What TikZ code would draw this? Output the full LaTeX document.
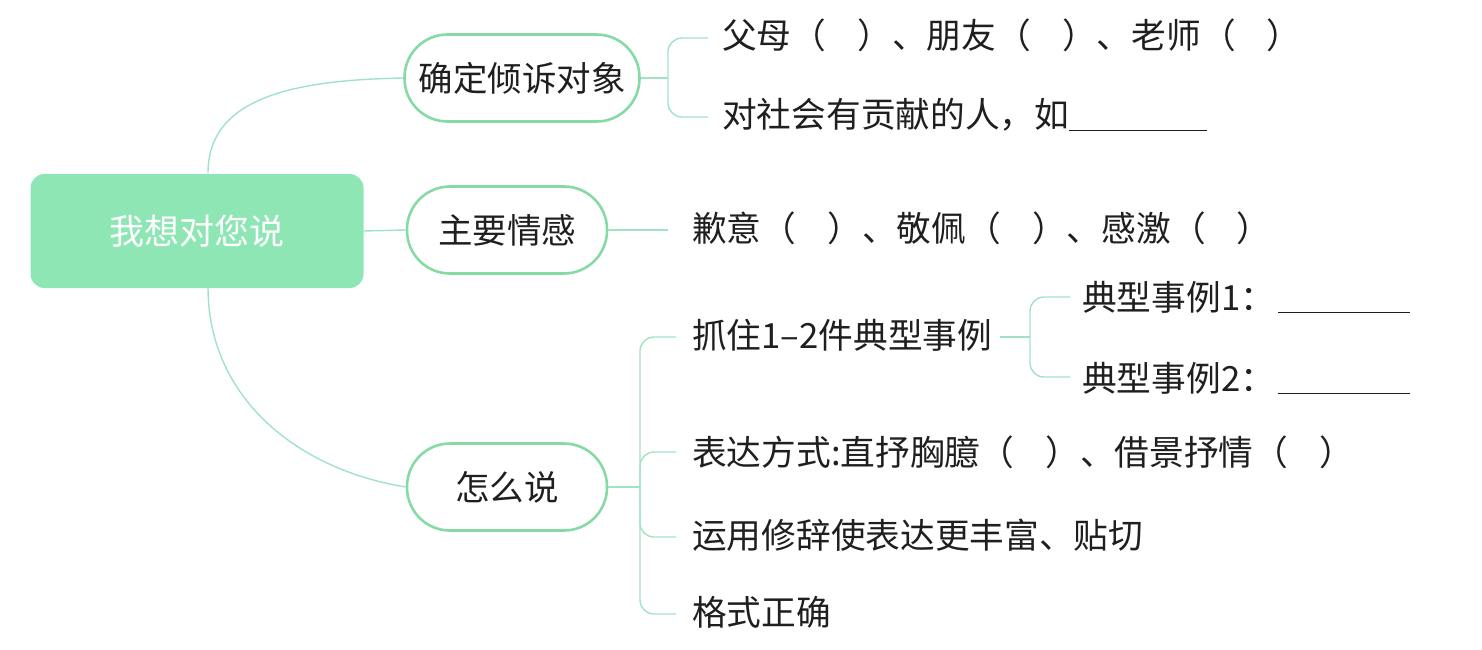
\documentclass[tikz,border=0pt]{standalone}
\usepackage{fontspec}
\setmainfont{Noto Sans CJK SC}
\definecolor{rootfill}{HTML}{8EE6B5}
\definecolor{pillline}{HTML}{86DBA5}
\definecolor{linkline}{HTML}{A0E3C4}
\begin{document}
\begin{tikzpicture}[x=1pt,y=-1pt,
  txt/.style={anchor=west,inner sep=0pt,font=\fontsize{34.7}{40}\selectfont,text=black!88},
  pill/.style={draw=pillline,line width=2.6pt,rounded corners=43pt,minimum height=87pt,font=\fontsize{34.5}{40}\selectfont,text=black!88},
  link/.style={draw=linkline,line width=1.4pt}]
\useasboundingbox (0,0) rectangle (1482,650);
% root
\node[fill=rootfill,rounded corners=14pt,minimum width=333pt,minimum height=114pt,text=white,font=\fontsize{35}{40}\selectfont] (root) at (197,231) {我想对您说};
% level 1
\node[pill,minimum width=235pt] (n1) at (522,78) {确定倾诉对象};
\node[pill,minimum width=200pt] (n2) at (507,230) {主要情感};
\node[pill,minimum width=200pt] (n3) at (507,487) {怎么说};
% root connectors
\coordinate (rt) at (208,173);
\coordinate (rb) at (208,287);
\draw[link] (rt) .. controls (208,95) and (300,80) .. (n1.west);
\draw[link] (root.east) -- (n2.west);
\draw[link] (rb) .. controls (208,400) and (300,470) .. (n3.west);
% n1 children
\node[txt] (a1) at (722,35) {父母（\hspace{0.9em}）、朋友（\hspace{0.9em}）、老师（\hspace{0.9em}）};
\node[txt] (a2) at (722,115) {对社会有贡献的人，如\rule[-3pt]{138pt}{1pt}};
\coordinate (b1) at (668,78);
\coordinate (e11) at (708,38);
\coordinate (e12) at (708,117);
\draw[link] (n1.east) -- (b1);
\draw[link,rounded corners=14pt] (b1) |- (e11);
\draw[link,rounded corners=14pt] (b1) |- (e12);
% n2 child
\node[txt] (c1) at (692,228) {歉意（\hspace{0.9em}）、敬佩（\hspace{0.9em}）、感激（\hspace{0.9em}）};
\coordinate (e2) at (668,230);
\draw[link] (n2.east) -- (e2);
% n3 children
\node[txt] (d1) at (692,335) {抓住1–2件典型事例};
\node[txt] (d2) at (692,452) {表达方式:直抒胸臆（\hspace{0.9em}）、借景抒情（\hspace{0.9em}）};
\node[txt] (d3) at (692,535) {运用修辞使表达更丰富、贴切};
\node[txt] (d4) at (692,612) {格式正确};
\coordinate (b3) at (640,487);
\coordinate (e31) at (676,337);
\coordinate (e32) at (676,452);
\coordinate (e33) at (676,537);
\coordinate (e34) at (676,614);
\draw[link] (n3.east) -- (b3);
\draw[link,rounded corners=14pt] (b3) |- (e31);
\draw[link,rounded corners=14pt] (b3) |- (e32);
\draw[link,rounded corners=14pt] (b3) |- (e33);
\draw[link,rounded corners=14pt] (b3) |- (e34);
% d1 children
\node[txt] (f1) at (1082,297) {典型事例1：\hspace{0.1em}\rule[-3pt]{132pt}{1pt}};
\node[txt] (f2) at (1082,378) {典型事例2：\hspace{0.1em}\rule[-3pt]{132pt}{1pt}};
\coordinate (b4) at (1030,337);
\coordinate (e41) at (1070,297);
\coordinate (e42) at (1070,377);
\draw[link] ([xshift=8pt]d1.east |- b4) -- (b4);
\draw[link,rounded corners=14pt] (b4) |- (e41);
\draw[link,rounded corners=14pt] (b4) |- (e42);
\end{tikzpicture}
\end{document}
